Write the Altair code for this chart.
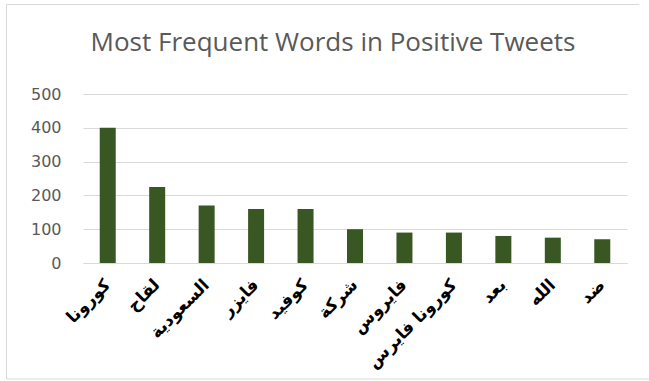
import altair as alt
import pandas as pd

# Word counts for the most frequent words in positive tweets
words = ["كورونا", "لقاح", "السعودية", "فايزر", "كوفيد", "شركة",
         "فايروس", "كورونا فايرس", "بعد", "الله", "ضد"]
counts = [400, 225, 170, 160, 160, 100, 90, 90, 80, 75, 70]
y_ticks = [0, 100, 200, 300, 400, 500]

df = pd.DataFrame({"word": words, "count": counts})

bars = alt.Chart(df).mark_bar(size=16, color="#385723").encode(
    x=alt.X(
        "word:N",
        sort=words,
        title=None,
        scale=alt.Scale(paddingInner=0.3, paddingOuter=0.15),
        axis=alt.Axis(
            labelAngle=-45,
            labelAlign="right",
            labelBaseline="middle",
            labelFont="DejaVu Sans",
            labelFontWeight="bold",
            labelFontSize=17,
            labelColor="#000000",
            labelPadding=19,
            ticks=False,
            domainColor="#d9d9d9",
            domainWidth=1,
            grid=False,
        ),
    ),
    y=alt.Y(
        "count:Q",
        title=None,
        scale=alt.Scale(domain=[0, 500], nice=False),
        axis=alt.Axis(
            values=y_ticks,
            labelFont="DejaVu Sans",
            labelFontSize=16,
            labelColor="#595959",
            labelPadding=22,
            ticks=False,
            domain=False,
            gridColor="#d9d9d9",
            gridWidth=1,
        ),
    ),
)

# Light frame around the whole chart area (top, left and bottom edges)
frame_top = alt.Chart(alt.Data(values=[{}])).mark_rule(
    color="#d9d9d9", strokeWidth=1
).encode(x=alt.value(-76.5), x2=alt.value(556), y=alt.value(-89.5))
frame_left = alt.Chart(alt.Data(values=[{}])).mark_rule(
    color="#d9d9d9", strokeWidth=1
).encode(x=alt.value(-76.5), y=alt.value(-89.5), y2=alt.value(285))
frame_bottom = alt.Chart(alt.Data(values=[{}])).mark_rule(
    color="#d9d9d9", strokeWidth=1
).encode(x=alt.value(-76.5), x2=alt.value(570), y=alt.value(285))

chart = alt.layer(frame_top, frame_left, frame_bottom, bars).properties(
    width=544,
    height=169,
    background="white",
    autosize=alt.AutoSizeParams(type="none"),
    padding={"left": 83, "top": 94, "right": 22, "bottom": 118},
    title=alt.TitleParams(
        "Most Frequent Words in Positive Tweets",
        font="Open Sans",
        fontSize=26,
        fontWeight="normal",
        color="#595959",
        anchor="middle",
        dx=-22,
        offset=-52,
    ),
).configure_view(strokeWidth=0)

chart.save("out.html", embed_options={"renderer": "svg", "actions": False})
